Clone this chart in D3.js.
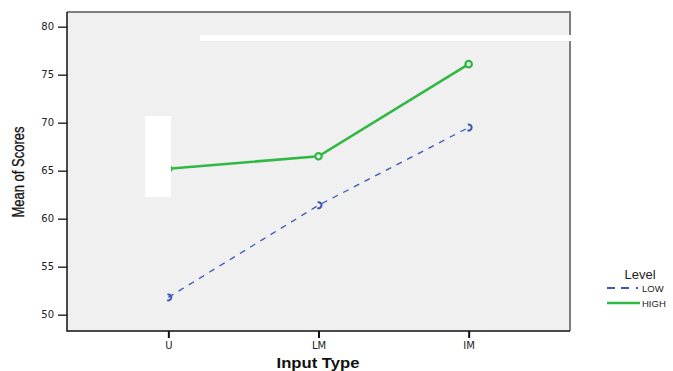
<!DOCTYPE html>
<html>
<head>
<meta charset="utf-8">
<script src="https://cdnjs.cloudflare.com/ajax/libs/d3/7.8.5/d3.min.js"></script>
<style>
  html, body { margin: 0; padding: 0; background: #fff; }
  svg { display: block; }
</style>
</head>
<body>
<div id="chart"></div>
<script>
// === DATA ===
const categories = ['U', 'LM', 'IM']
const levels = ['LOW', 'HIGH']
const lowValues = [51.8, 61.4, 69.5]
const highValues = [65.2, 66.5, 76.1]
const yTicks = [50, 55, 60, 65, 70, 75, 80]

// === LAYOUT ===
const W = 673, H = 371
const plot = { left: 67, right: 570, top: 12, bottom: 331 }
const colors = { LOW: '#3b56b6', HIGH: '#2fb843' }
const tickFont = 'DejaVu Sans, Verdana, sans-serif'
const labelFont = 'Liberation Sans, Arial, sans-serif'

const svg = d3.select('#chart').append('svg')
    .attr('width', W)
    .attr('height', H)

const x = d3.scalePoint()
    .domain(categories)
    .range([plot.left, plot.right])
    .padding(0.675)

const y = d3.scaleLinear()
    .domain([50, 80])
    .range([314.7, 26.7])

// plot background
svg.append('rect')
    .attr('x', plot.left).attr('y', plot.top)
    .attr('width', plot.right - plot.left)
    .attr('height', plot.bottom - plot.top)
    .attr('fill', '#f0f0f0')

// top / right frame (gray)
svg.append('path')
    .attr('d', `M${plot.left},${plot.top}H${plot.right}V${plot.bottom}`)
    .attr('fill', 'none')
    .attr('stroke', '#808080')
    .attr('stroke-width', 2)

// axes
const yAxis = svg.append('g')
    .attr('transform', `translate(${plot.left},0)`)
    .call(d3.axisLeft(y).tickValues(yTicks).tickSize(9).tickPadding(4))
yAxis.select('.domain').remove()
yAxis.selectAll('line').attr('stroke', '#333').attr('stroke-width', 1.5)
yAxis.selectAll('text')
    .attr('font-family', tickFont)
    .attr('font-size', 10)
    .attr('fill', '#222')

const xAxis = svg.append('g')
    .attr('transform', `translate(0,${plot.bottom})`)
    .call(d3.axisBottom(x).tickSize(7).tickPadding(4))
xAxis.select('.domain').remove()
xAxis.selectAll('line').attr('stroke', '#111').attr('stroke-width', 2)
xAxis.selectAll('text')
    .attr('font-family', tickFont)
    .attr('font-size', 10)
    .attr('fill', '#222')

// left / bottom frame (black)
svg.append('path')
    .attr('d', `M${plot.left},${plot.top}V${plot.bottom}H${plot.right}`)
    .attr('fill', 'none')
    .attr('stroke', '#111')
    .attr('stroke-width', 1.5)

// axis titles
svg.append('text')
    .attr('x', 318).attr('y', 368)
    .attr('text-anchor', 'middle')
    .attr('font-family', labelFont)
    .attr('font-weight', 'bold')
    .attr('font-size', 15)
    .attr('textLength', 83)
    .attr('lengthAdjust', 'spacingAndGlyphs')
    .attr('fill', '#111')
    .text('Input Type')

svg.append('text')
    .attr('transform', 'translate(24,172) rotate(-90)')
    .attr('text-anchor', 'middle')
    .attr('font-family', labelFont)
    .attr('font-size', 16)
    .attr('textLength', 91)
    .attr('lengthAdjust', 'spacingAndGlyphs')
    .attr('stroke', '#111')
    .attr('stroke-width', 0.3)
    .attr('fill', '#111')
    .text('Mean of Scores')

// === LINES ===
const line = d3.line()
    .x((d, i) => x(categories[i]))
    .y(d => y(d))

svg.append('path')
    .datum(lowValues)
    .attr('d', line)
    .attr('fill', 'none')
    .attr('stroke', colors.LOW)
    .attr('stroke-width', 1.3)
    .attr('stroke-dasharray', '6,6')

svg.append('path')
    .datum(highValues)
    .attr('d', line)
    .attr('fill', 'none')
    .attr('stroke', colors.HIGH)
    .attr('stroke-width', 2.6)

// markers
const lowArc = d3.arc()
    .innerRadius(2)
    .outerRadius(4)
    .startAngle(-0.3)
    .endAngle(Math.PI + 0.4)

svg.append('g').selectAll('path')
    .data(lowValues)
    .join('path')
    .attr('transform', (d, i) => `translate(${x(categories[i])},${y(d)})`)
    .attr('d', lowArc)
    .attr('fill', colors.LOW)

svg.append('g').selectAll('circle')
    .data(highValues)
    .join('circle')
    .attr('cx', (d, i) => x(categories[i]))
    .attr('cy', d => y(d))
    .attr('r', 3.2)
    .attr('fill', '#e8f5ea')
    .attr('stroke', colors.HIGH)
    .attr('stroke-width', 2.2)

// white artifacts in the source image
svg.append('rect')
    .attr('x', 145).attr('y', 116)
    .attr('width', 26).attr('height', 81)
    .attr('fill', '#fff')
svg.append('rect')
    .attr('x', 200).attr('y', 35)
    .attr('width', 375).attr('height', 6)
    .attr('fill', '#fff')

// === LEGEND ===
const legend = svg.append('g')
svg.append('text')
    .attr('x', 640).attr('y', 279)
    .attr('text-anchor', 'middle')
    .attr('font-family', labelFont)
    .attr('font-size', 13)
    .attr('fill', '#222')
    .text('Level')

const legendRows = legend.selectAll('g')
    .data(levels)
    .join('g')
    .attr('transform', (d, i) => `translate(0,${288 + i * 15})`)

legendRows.append('line')
    .attr('x1', 607).attr('x2', 640)
    .attr('stroke', d => colors[d])
    .attr('stroke-width', d => d === 'HIGH' ? 2.4 : 1.8)
    .attr('stroke-dasharray', d => d === 'LOW' ? '8,6,8,7,2' : null)

legendRows.append('text')
    .attr('x', 642).attr('y', 3.5)
    .attr('font-family', labelFont)
    .attr('font-size', 9.5)
    .attr('fill', '#222')
    .text(d => d)
</script>
</body>
</html>
